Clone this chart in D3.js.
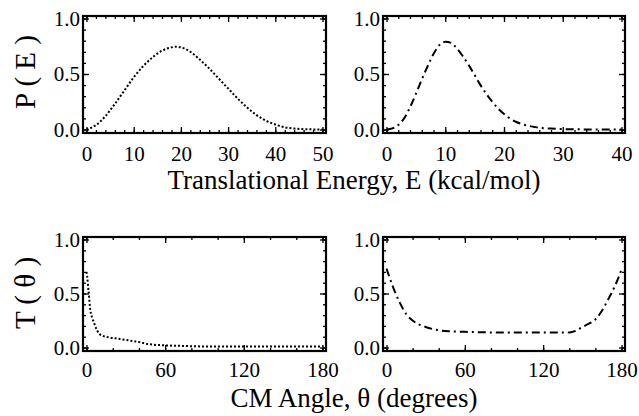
<!DOCTYPE html>
<html><head><meta charset="utf-8">
<script src="https://cdn.jsdelivr.net/npm/d3@7"></script>
<style>body{margin:0;background:#fff} text{font-family:'Liberation Serif','Times New Roman',serif;}</style>
</head><body><svg id="c" width="639" height="416"></svg>
<script>
// ---- data ----
const energyA = [0,2,4,6,8,10,12,14,16,18,19,20,22,24,26,28,30,32,34,36,38,40,42,44,46,48,50];
const probA   = [0,0.04,0.12,0.23,0.35,0.47,0.57,0.65,0.71,0.74,0.745,0.74,0.70,0.63,0.55,0.46,0.37,0.28,0.20,0.13,0.08,0.045,0.02,0.008,0.003,0.001,0];
const energyB = [0,1,2,3,4,5,6,7,8,9,10,11,12,13,14,15,16,17,18,19,20,21,22,23,24,25,26,28,30,32,34,36,38,40];
const probB   = [0,0.01,0.04,0.10,0.20,0.32,0.45,0.57,0.68,0.76,0.79,0.78,0.73,0.66,0.58,0.49,0.40,0.32,0.25,0.19,0.14,0.10,0.07,0.05,0.035,0.025,0.015,0.008,0.004,0.002,0.001,0.001,0,0];
const angleA  = [0,0.5,1.5,3,4.5,6,8,10,13,17,22,30,40,48,60,75,90,120,150,180];
const tA      = [0.70,0.66,0.53,0.34,0.27,0.22,0.16,0.125,0.105,0.094,0.085,0.07,0.05,0.03,0.02,0.014,0.01,0.01,0.01,0.01];
const angleB  = [0,5,10,15,20,30,40,50,60,80,100,120,140,145,150,155,160,165,170,175,180];
const tB      = [0.73,0.56,0.42,0.31,0.25,0.19,0.16,0.15,0.145,0.14,0.14,0.14,0.14,0.155,0.19,0.22,0.26,0.34,0.45,0.57,0.72];

const yTicks = [0, 0.5, 1.0];
const yMinor = [0,0.1,0.2,0.3,0.4,0.5,0.6,0.7,0.8,0.9,1.0];
const energyTicksA = [0,10,20,30,40,50];
const energyTicksB = [0,10,20,30,40];
const angleTicks = [0,60,120,180];
const energyTitle = "Translational Energy, E (kcal/mol)";
const angleTitle = "CM Angle, θ (degrees)";
const pTitle = "P ( E )";
const tTitle = "T ( θ )";

const svg = d3.select("#c");
const FONT = "'Liberation Serif','Times New Roman',serif";

const panels = [
  {box:[83,326,16,133], xmax:50, xt:energyTicksA, minorStep:2, xs:energyA, ys:probA, dash:"2,2", pad:13},
  {box:[383,625,16,133], xmax:40, xt:energyTicksB, minorStep:2, xs:energyB, ys:probB, dash:"8,4,2,4", pad:13},
  {box:[83,326,237,351], xmax:180, xt:angleTicks, minorStep:20, xs:angleA, ys:tA, dash:"2,2", pad:11},
  {box:[383,625,237,351], xmax:180, xt:angleTicks, minorStep:20, xs:angleB, ys:tB, dash:"8,4,2,4", pad:11}
];

function styleAxis(sel){
  sel.attr("font-family", FONT).attr("font-size", 21);
  sel.select(".domain").remove();
  sel.selectAll(".tick line").attr("stroke","#000").attr("stroke-width",1.3);
  sel.selectAll(".tick text").style("font-family",FONT).style("font-size","21px").attr("fill","#000");
}

panels.forEach(p => {
  const [x0,x1,y0,y1] = p.box;
  const x = d3.scaleLinear().domain([0,p.xmax]).range([x0+3.5, x1-3.5]);
  const y = d3.scaleLinear().domain([0,1]).range([y1-3.5, y0+2.5]);
  const g = svg.append("g");
  const minorX = d3.range(0, p.xmax + 1e-9, p.minorStep);

  // bottom
  g.append("g").attr("transform",`translate(0,${y1})`)
    .call(d3.axisBottom(x).tickValues(minorX).tickSize(-3).tickFormat("")).call(styleAxis);
  g.append("g").attr("transform",`translate(0,${y1})`)
    .call(d3.axisBottom(x).tickValues(p.xt).tickSize(-6).tickPadding(p.pad).tickFormat(d3.format("d"))).call(styleAxis);
  // top
  g.append("g").attr("transform",`translate(0,${y0})`)
    .call(d3.axisTop(x).tickValues(minorX).tickSize(-3).tickFormat("")).call(styleAxis);
  g.append("g").attr("transform",`translate(0,${y0})`)
    .call(d3.axisTop(x).tickValues(p.xt).tickSize(-6).tickFormat("")).call(styleAxis);
  // left
  g.append("g").attr("transform",`translate(${x0},0)`)
    .call(d3.axisLeft(y).tickValues(yMinor).tickSize(-3).tickFormat("")).call(styleAxis);
  g.append("g").attr("transform",`translate(${x0},0)`)
    .call(d3.axisLeft(y).tickValues(yTicks).tickSize(-6).tickPadding(3).tickFormat(d3.format(".1f"))).call(styleAxis);
  // right
  g.append("g").attr("transform",`translate(${x1},0)`)
    .call(d3.axisRight(y).tickValues(yMinor).tickSize(-3).tickFormat("")).call(styleAxis);
  g.append("g").attr("transform",`translate(${x1},0)`)
    .call(d3.axisRight(y).tickValues(yTicks).tickSize(-6).tickFormat("")).call(styleAxis);

  g.append("rect").attr("x",x0).attr("y",y0).attr("width",x1-x0).attr("height",y1-y0)
    .attr("fill","none").attr("stroke","#000").attr("stroke-width",2.2);

  const line = d3.line().x((d,i)=>x(p.xs[i])).y(d=>y(d)).curve(d3.curveMonotoneX);
  g.append("path").attr("d",line(p.ys)).attr("fill","none").attr("stroke","#000")
    .attr("stroke-width",2).attr("stroke-dasharray",p.dash);
});

function title(txt,xp,yp,rot,size){
  svg.append("text").attr("x",xp).attr("y",yp).attr("text-anchor","middle")
    .attr("font-family",FONT).attr("font-size",size).attr("fill","#000")
    .attr("transform", rot ? `rotate(-90,${xp},${yp})` : null).text(txt);
}
title(energyTitle, 354, 189, false, "27px");
title(angleTitle, 354, 407, false, "27px");
title(pTitle, 35, 72, true, "29px");
title(tTitle, 35, 293, true, "29px");
</script></body></html>
